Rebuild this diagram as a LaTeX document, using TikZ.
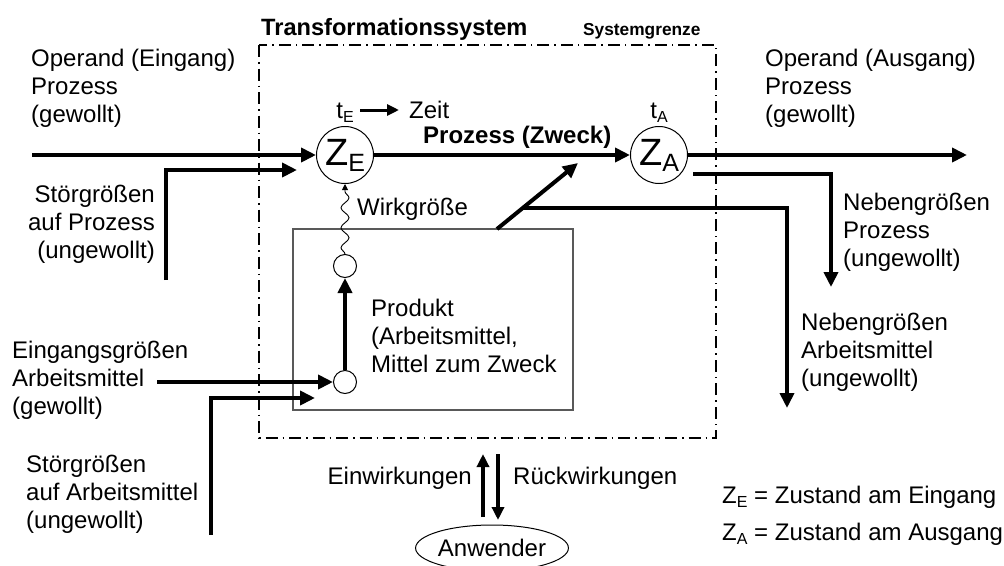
\documentclass[tikz,border=0pt]{standalone}
\usepackage{fontspec}
\setmainfont{Liberation Sans}
\usetikzlibrary{arrows.meta,decorations.pathmorphing,shapes.geometric}
\newcommand{\subtxt}[1]{\raisebox{-4pt}{\fontsize{16}{16}\selectfont #1}}
\begin{document}
\begin{tikzpicture}[x=1pt,y=-1pt,
  txt/.style={inner sep=0pt,font=\fontsize{24}{28}\selectfont,align=left},
  flow/.style={line width=4pt,-{Triangle[length=15pt,width=14pt]}},
  state/.style={circle,draw,line width=1pt,minimum size=57pt,inner sep=0pt},
  smallc/.style={circle,draw,line width=1pt,minimum size=23pt,inner sep=0pt},
  boundary/.style={line width=1.5pt,dash pattern=on 12pt off 5pt on 1.5pt off 5pt}]
\useasboundingbox (0,0) rectangle (1004,565);

% system boundary
\draw[boundary] (259,45) rectangle (716,438);
\node[txt,anchor=base west,font=\fontsize{23.6}{28}\selectfont\bfseries] (title) at (261,35) {Transformationssystem};
\node[txt,anchor=base west,font=\fontsize{17.3}{20}\selectfont\bfseries] (grenze) at (583,35) {Systemgrenze};

% states
\node[state] (ZE) at (345,155) {\fontsize{38}{38}\selectfont Z\raisebox{-6pt}{\fontsize{25}{25}\selectfont E}};
\node[state] (ZA) at (659,155) {\fontsize{38}{38}\selectfont Z\raisebox{-6pt}{\fontsize{25}{25}\selectfont A}};
\node[txt,anchor=base] (tE) at (345,118) {t\subtxt{E}};
\node[txt,anchor=base] (tA) at (659,118) {t\subtxt{A}};
\coordinate (z1) at (360,110);
\coordinate (z2) at (399,110);
\draw[line width=3pt,-{Triangle[length=12pt,width=11pt]}] (z1) -- (z2);
\node[txt,anchor=base west] (zeit) at (409,118) {Zeit};
\node[txt,anchor=base west,font=\fontsize{24}{28}\selectfont\bfseries] (zweck) at (423,143) {Prozess (Zweck)};

% main process flow
\coordinate (in) at (32,155);
\coordinate (out) at (967,155);
\draw[flow] (in) -- (ZE);
\draw[flow] (ZE) -- (ZA);
\draw[flow] (ZA) -- (out);

% left labels (base anchor = last line)
\node[txt,anchor=base west] (opin) at (31,122) {Operand (Eingang)\\Prozess\\(gewollt)};
\node[txt,anchor=base east,align=right] (stp) at (155,258) {Störgrößen\\auf Prozess\\(ungewollt)};
\coordinate (stp0) at (166,280);
\coordinate (stp1) at (297,170);
\draw[flow] (stp0) |- (stp1);

% product box
\node[draw=black!65,line width=1.3pt,minimum width=280pt,minimum height=181pt,inner sep=0pt] (box) at (433,319.5) {};
\node[smallc] (s2) at (345,266) {};
\node[smallc] (s1) at (345,382) {};
\draw[flow] (s1) -- (s2);
\draw[line width=0.9pt,decorate,decoration={snake,amplitude=4pt,segment length=20pt,post length=7pt},-{Triangle[length=6pt,width=6pt]}] (s2.north) -- (ZE.south);
\node[txt,anchor=base west] (wirk) at (357,215) {Wirkgröße};
\node[txt,anchor=base west] (prod) at (371,372) {Produkt\\(Arbeitsmittel,\\Mittel zum Zweck};

% inputs to the product
\node[txt,anchor=base west] (ein) at (12,414) {Eingangsgrößen\\Arbeitsmittel\\(gewollt)};
\coordinate (ein0) at (157,382);
\draw[flow] (ein0) -- (s1);
\node[txt,anchor=base west] (sta) at (26,528) {Störgrößen\\auf Arbeitsmittel\\(ungewollt)};
\coordinate (sta0) at (211,535);
\coordinate (sta1) at (315,398);
\draw[flow] (sta0) |- (sta1);

% outputs
\coordinate (d0) at (497,229);
\coordinate (d1) at (578,163);
\coordinate (br) at (523,208);
\coordinate (nba) at (787,408);
\draw[flow] (d0) -- (d1);
\draw[flow] (br) -| (nba);
\coordinate (np0) at (693,174);
\coordinate (np1) at (831,287);
\draw[flow] (np0) -| (np1);

% right labels
\node[txt,anchor=base west] (opout) at (765,122) {Operand (Ausgang)\\Prozess\\(gewollt)};
\node[txt,anchor=base west] (nbp) at (843,266) {Nebengrößen\\Prozess\\(ungewollt)};
\node[txt,anchor=base west] (nbal) at (801,386) {Nebengrößen\\Arbeitsmittel\\(ungewollt)};

% user
\node[ellipse,draw,line width=1pt,minimum width=150pt,minimum height=46pt,inner sep=0pt,font=\fontsize{24}{28}\selectfont] (user) at (492,548) {Anwender};
\coordinate (u0) at (483,517);
\coordinate (u1) at (483,454);
\coordinate (r0) at (498,454);
\coordinate (r1) at (498,520);
\draw[line width=4pt,-{Triangle[length=13pt,width=12pt]}] (u0) -- (u1);
\draw[line width=4pt,-{Triangle[length=13pt,width=12pt]}] (r0) -- (r1);
\node[txt,anchor=base east] (einw) at (472,484) {Einwirkungen};
\node[txt,anchor=base west] (rueck) at (513,484) {Rückwirkungen};

% legend
\node[txt,anchor=base west] (legE) at (722,503) {Z\subtxt{E} = Zustand am Eingang};
\node[txt,anchor=base west] (legA) at (722,540) {Z\subtxt{A} = Zustand am Ausgang};
\end{tikzpicture}
\end{document}
